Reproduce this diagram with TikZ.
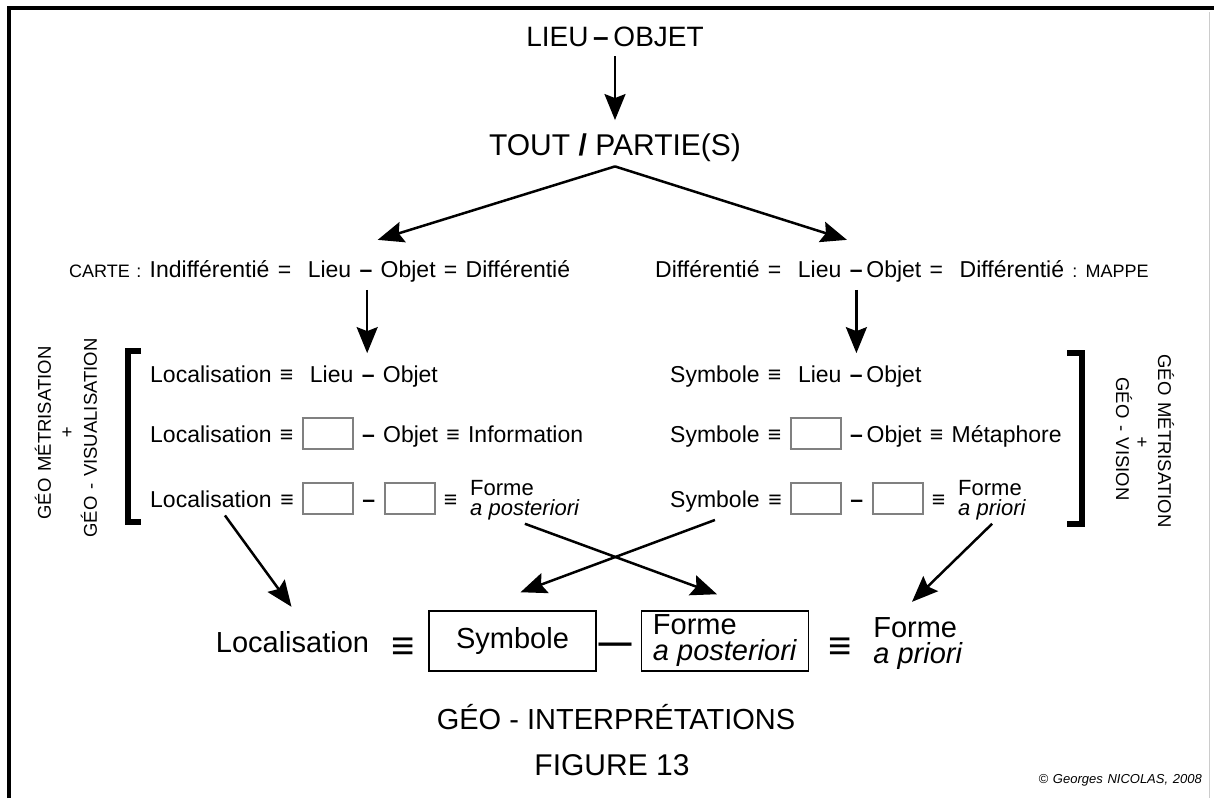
\documentclass[tikz,border=0pt]{standalone}
\usepackage{fontspec}
\setmainfont{Liberation Sans}[WordSpace=1.3]
\usetikzlibrary{arrows.meta}
\newcommand\eqv{≡}
\newcommand\dsh{\textbf{–}}
\newcommand\vide{\raisebox{-6pt}{\setlength\fboxsep{0pt}\setlength\fboxrule{2pt}\fcolorbox{gray}{white}{\rule{0pt}{29pt}\rule{48pt}{0pt}}}}
\newcommand\petitcap{\fontsize{18}{18}\selectfont}
\newcommand\espnormal{\spaceskip=0.28em plus 0.1em minus 0.1em\relax}
\begin{document}
\begin{tikzpicture}[x=1pt,y=-1pt,
    big/.style={font=\fontsize{29}{26}\selectfont\espnormal, inner sep=0pt},
    txt/.style={font=\fontsize{23}{25}\selectfont, inner sep=0pt, anchor=base west},
    pile/.style={font=\fontsize{22}{22}\selectfont\espnormal, inner sep=0pt, anchor=base west},
    vert/.style={font=\fontsize{18.5}{20}\selectfont, inner sep=0pt},
    arr/.style={line width=2.5pt, -{Stealth[length=26pt,width=21pt,inset=4pt]}},
    crochet/.style={line width=6pt},
    cadre/.style={big, draw, line width=1.5pt, minimum width=167pt, minimum height=60pt, inner xsep=10pt, align=left}]
  \useasboundingbox (0,0) rectangle (1214,798);
  \draw[line width=4pt] (9,798) -- (9,7.5) -- (1214,7.5);
  \draw[gray!40, line width=1pt] (1209,12) -- (1209,798);

  \node[big, font=\fontsize{28}{28}\selectfont, anchor=base] (lieuobjet) at (615,46) {LIEU\,\textbf{–}\,OBJET};
  \node[big, font=\fontsize{30}{30}\selectfont\espnormal, anchor=base] (toutpartie) at (615,155) {TOUT \textbf{/} PARTIE(S)};
  \draw[arr, shorten <=10pt, shorten >=13pt] (lieuobjet.south) -- (toutpartie.north);

  \node[txt] (carte) at (69,277) {{\petitcap CARTE :} Indifférentié =\ \ Lieu \dsh{} Objet = Différentié};
  \node[txt] (mappe) at (655,277) {Différentié =\ \ Lieu \dsh\,Objet =\ \ Différentié {\petitcap : MAPPE}};
  \draw[arr] ([yshift=-5pt]toutpartie.south) -- ([xshift=58pt,yshift=20pt]carte.north);
  \draw[arr] ([yshift=-5pt]toutpartie.south) -- ([xshift=-55pt,yshift=20pt]mappe.north);

  \node[txt] (locA) at (150,382) {Localisation \eqv\ \ Lieu \dsh{} Objet};
  \node[txt] (locB) at (150,442) {Localisation \eqv{} \vide{} \dsh{} Objet \eqv{} Information};
  \node[txt] (locC) at (150,507) {Localisation};
  \node[txt] (locCc) at (locC.base east) {\ \eqv{} \vide{} \dsh{} \vide{} \eqv};
  \node[pile] (formeL) at (470,495) {Forme};
  \node[pile] (aposL) at (470,515) {\textit{a posteriori}};

  \node[txt] (symA) at (670,382) {Symbole \eqv\ \ Lieu \dsh\,Objet};
  \node[txt] (symB) at (670,442) {Symbole \eqv{} \vide{} \dsh\,Objet \eqv{} Métaphore};
  \node[txt] (symC) at (670,507) {Symbole};
  \node[txt] (symCc) at (symC.base east) {\ \eqv{} \vide{} \dsh{} \vide{} \eqv};
  \node[pile] (formeR) at (958,495) {Forme};
  \node[pile] (aprR) at (958,515) {\textit{a priori}};

  \coordinate (flecheG) at ([xshift=47.5pt,yshift=-8pt]carte.south);
  \coordinate (flecheD) at ([xshift=-45.5pt,yshift=-8pt]mappe.south);
  \draw[arr, shorten >=12pt] (flecheG) -- (flecheG |- locA.north);
  \draw[arr, shorten >=12pt] (flecheD) -- (flecheD |- symA.north);

  \draw[crochet] (141,351) -- (128,351) -- (128,522) -- (141,522);
  \draw[crochet] (1067,353) -- (1082,353) -- (1082,524) -- (1067,524);

  \node[vert, rotate=90] (metriG) at (43,433) {GÉO MÉTRISATION};
  \node[vert] (plusG) at (67,433) {+};
  \node[vert, rotate=90] (visuG) at (89,438) {GÉO - VISUALISATION};
  \node[vert, rotate=-90] (metriD) at (1166,441) {GÉO MÉTRISATION};
  \node[vert] (plusD) at (1142,443) {+};
  \node[vert, rotate=-90] (visionD) at (1124,439) {GÉO - VISION};

  \node[big, anchor=base] (locD) at (292.5,652) {Localisation};
  \node[big, font=\bfseries\fontsize{40}{40}\selectfont] (eqA) at (403,649) {≡};
  \node[cadre] (symD) at (512.5,641) {Symbole};
  \node[big, font=\bfseries\fontsize{33}{33}\selectfont] (dashD) at (615,648) {—};
  \node[cadre] (formeD) at (725,641) {Forme\\\textit{a posteriori}};
  \node[big, font=\bfseries\fontsize{40}{40}\selectfont] (eqB) at (840,649) {≡};
  \node[big, align=left] (formeE) at (918,644) {Forme\\\textit{a priori}};

  \draw[arr] ([xshift=14pt,yshift=-8pt]locC.south) -- ([xshift=-1pt,yshift=24pt]locD.north);
  \draw[arr] ([yshift=-8pt]symC.south) -- ([xshift=8pt,yshift=18pt]symD.north);
  \draw[arr] ([yshift=-4pt]aposL.south) -- ([xshift=-8pt,yshift=16pt]formeD.north);
  \draw[arr] ([yshift=-4pt]aprR.south) -- ([xshift=-6pt,yshift=16pt]formeE.north);

  \node[big, anchor=base] (geointerp) at (616,729) {GÉO - INTERPRÉTATIONS};
  \node[big, font=\fontsize{30}{30}\selectfont\espnormal, anchor=base] (figure) at (612,775) {FIGURE 13};
  \node[font=\itshape\fontsize{13}{13}\selectfont, inner sep=0pt, anchor=base east] (copy) at (1202,783) {© Georges NICOLAS, 2008};
\end{tikzpicture}
\end{document}
